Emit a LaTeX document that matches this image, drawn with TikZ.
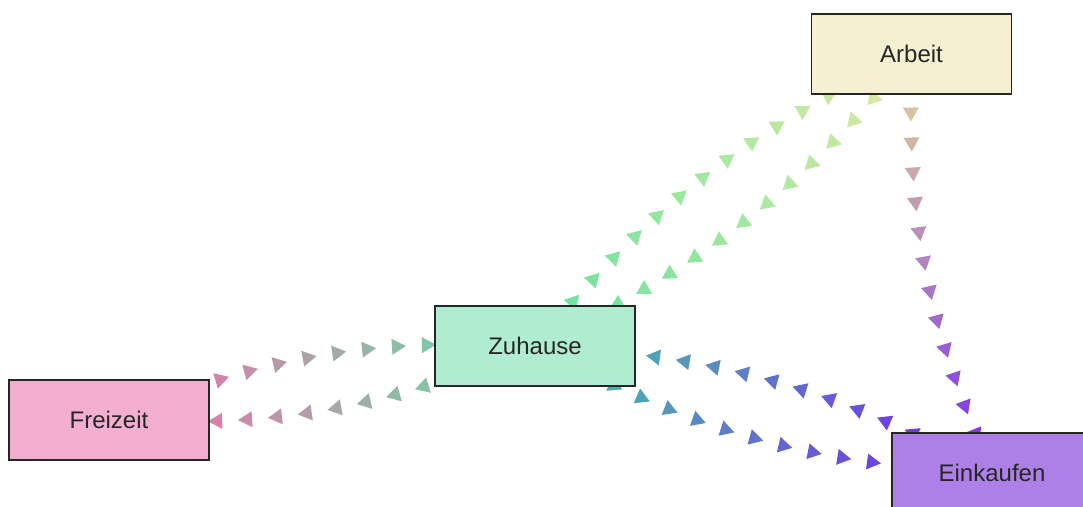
\documentclass[tikz,border=0pt]{standalone}
\usepackage{fontspec}
\setmainfont{Liberation Sans}
\usetikzlibrary{decorations.markings,backgrounds}
\definecolor{arfill}{HTML}{F5F0D2}
\definecolor{zhfill}{HTML}{B0ECD0}
\definecolor{fzfill}{HTML}{F4AED0}
\definecolor{ekfill}{HTML}{AD80E8}
\definecolor{cFZ}{RGB}{214,128,170}
\definecolor{cZHa}{RGB}{128,200,165}
\definecolor{cZHb}{RGB}{112,228,160}
\definecolor{cAR}{RGB}{214,234,160}
\definecolor{cARc}{RGB}{218,196,160}
\definecolor{cEKc}{RGB}{128,56,230}
\definecolor{cZHd}{RGB}{80,170,180}
\definecolor{cEKd}{RGB}{110,60,228}
\begin{document}
\begin{tikzpicture}[x=1pt,y=-1pt,
  box/.style={draw=black!85,line width=1.6pt,minimum width=200pt,minimum height=80pt,
    inner sep=0pt,font=\fontsize{24}{28}\selectfont,text=black!85},
  chain/.style n args={4}{postaction={decorate,decoration={markings,
     mark=between positions 0 and 1 step 30pt with {%
       \pgfmathsetmacro\tpos{\pgfkeysvalueof{/pgf/decoration/mark info/distance from start}/\pgfdecoratedpathlength}%
       \pgfmathsetmacro\pct{100*max(0,min(1,(\tpos-#3)/(#4-#3)))}%
       \fill[#2!\pct!#1] (7.5pt,0pt) -- (-6.5pt,8pt) -- (-6.5pt,-8pt) -- cycle;}}}}
]
\useasboundingbox (0,0) rectangle (1083,506);
\node[box,fill=arfill] (ar) at (911.5,54) {Arbeit};
\node[box,fill=zhfill] (zh) at (535,346) {Zuhause};
\node[box,fill=fzfill] (fz) at (109,420) {Freizeit};
\node[box,fill=ekfill] (ek) at (992,473) {Einkaufen};
\begin{pgfonlayer}{background}
\fill[white] (0,0) rectangle (1083,506);
\path[chain={cFZ}{cZHa}{0.24}{0.76}] (fz.center) to[bend left=12.5] (zh.center);
\path[chain={cZHa}{cFZ}{0.24}{0.76}] (zh.center) to[bend left=12.5] (fz.center);
\path[chain={cZHb}{cAR}{0.1}{0.9}] (zh.center) to[bend left=12.5] (ar.center);
\path[chain={cAR}{cZHb}{0.1}{0.9}] (ar.center) to[bend left=12.5] (zh.center);
\path[chain={cARc}{cEKc}{0.13}{0.9}] (ar.center) to[bend right=12.5] (ek.center);
\path[chain={cZHd}{cEKd}{0.2}{0.8}] (zh.center) to[bend right=12.5] (ek.center);
\path[chain={cEKd}{cZHd}{0.2}{0.8}] (ek.center) to[bend right=12.5] (zh.center);
\end{pgfonlayer}
\end{tikzpicture}
\end{document}
